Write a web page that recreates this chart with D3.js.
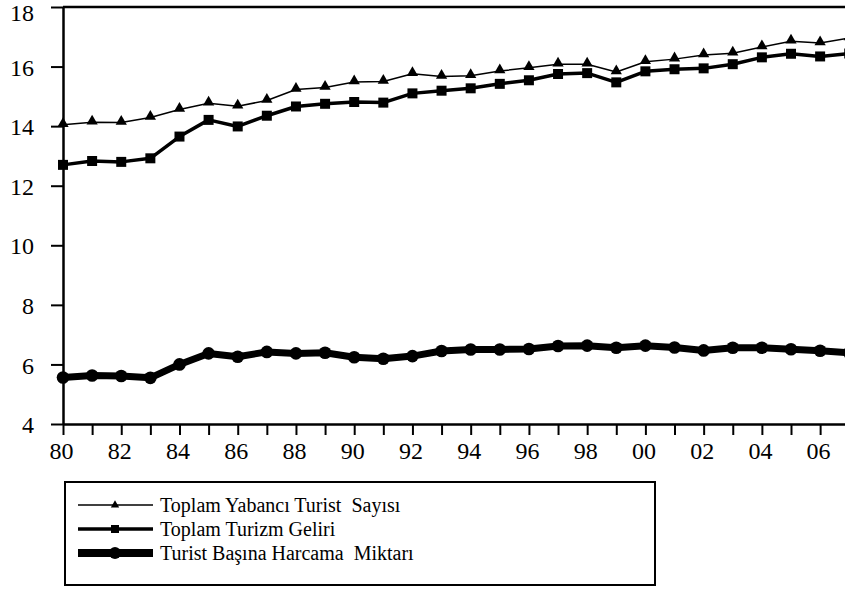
<!DOCTYPE html>
<html>
<head>
<meta charset="utf-8">
<script src="https://cdn.jsdelivr.net/npm/d3@7"></script>
<style>
  html, body { margin: 0; padding: 0; background: #fff; }
  svg { display: block; }
  svg text { font-family: "Liberation Serif", "Times New Roman", Times, "DejaVu Serif", serif !important; fill: #000; }
</style>
</head>
<body>
<script>
// ---- Data ----
const years = [1980,1981,1982,1983,1984,1985,1986,1987,1988,1989,1990,1991,1992,1993,
               1994,1995,1996,1997,1998,1999,2000,2001,2002,2003,2004,2005,2006,2007];
const touristCount = [14.05,14.13,14.12,14.29,14.56,14.77,14.67,14.86,15.23,15.30,15.48,15.50,15.76,15.67,
                      15.69,15.85,15.96,16.08,16.08,15.82,16.16,16.25,16.39,16.45,16.66,16.85,16.79,16.96];
const tourismRevenue = [12.70,12.83,12.80,12.92,13.65,14.21,13.99,14.35,14.66,14.75,14.81,14.79,15.10,15.19,
                        15.27,15.42,15.54,15.75,15.78,15.47,15.84,15.91,15.94,16.08,16.31,16.43,16.34,16.44];
const spendingPerTourist = [5.56,5.63,5.61,5.55,6.00,6.37,6.26,6.42,6.37,6.39,6.24,6.19,6.28,6.45,
                            6.50,6.50,6.52,6.62,6.63,6.56,6.63,6.57,6.47,6.56,6.56,6.51,6.46,6.39];
const yTicks = [4,6,8,10,12,14,16,18];
const xTickYears = years;
const seriesNames = ["Toplam Yabancı Turist  Sayısı", "Toplam Turizm Geliri", "Turist Başına Harcama  Miktarı"];

// ---- Layout ----
const W = 845, H = 589;
const FONT = "'Liberation Serif', 'Times New Roman', Times, 'DejaVu Serif', serif";
const svg = d3.select("body").append("svg").attr("width", W).attr("height", H);

const x = d3.scaleLinear().domain([1980, 2007]).range([63, 63 + 27 * 29.12]);
const y = d3.scaleLinear().domain([4, 18]).range([424, 7]);

// Top frame line
svg.append("line")
  .attr("x1", x(1980)).attr("x2", x(2007) + 5)
  .attr("y1", y(18)).attr("y2", y(18))
  .attr("stroke", "#000").attr("stroke-width", 2.5);
svg.append("line")
  .attr("x1", x(2007)).attr("x2", x(2007))
  .attr("y1", y(18)).attr("y2", y(4))
  .attr("stroke", "#000").attr("stroke-width", 2.5);

// Y axis
const yAxis = svg.append("g")
  .attr("transform", `translate(${x(1980)},0)`)
  .call(d3.axisLeft(y).tickValues(yTicks).tickSize(12).tickSizeOuter(0).tickPadding(17).tickFormat(d3.format("d")))
  .attr("font-family", FONT).attr("font-size", 24);
yAxis.select(".domain").attr("stroke-width", 2.5);
yAxis.selectAll(".tick line").attr("stroke-width", 2);
yAxis.selectAll(".tick text")
  .attr("font-family", FONT).attr("font-size", 24)
  .attr("dy", d => d === 18 ? "0.55em" : "0.36em");

// X axis
const xAxis = svg.append("g")
  .attr("transform", `translate(0,${y(4)})`)
  .call(d3.axisBottom(x).tickValues(xTickYears).tickSize(11).tickSizeOuter(0).tickPadding(7)
    .tickFormat(d => (d % 2 === 0 && d < 2007) ? String(d).slice(2) : ""))
  .attr("font-family", FONT).attr("font-size", 24);
xAxis.select(".domain").attr("stroke-width", 2.5);
xAxis.selectAll(".tick line").attr("stroke-width", 2);
xAxis.selectAll(".tick text").attr("font-family", FONT).attr("font-size", 24).attr("dx", "-2");

// ---- Series ----
const series = [
  { values: touristCount, width: 1.5, symbol: d3.symbolTriangle, size: 55 },
  { values: tourismRevenue, width: 3.5, symbol: d3.symbolSquare, size: 100 },
  { values: spendingPerTourist, width: 7, symbol: d3.symbolCircle, size: 125 }
];

const line = d3.line().x(d => x(d.year)).y(d => y(d.v));

series.forEach(s => {
  const pts = years.map((yr, i) => ({ year: yr, v: s.values[i] }));
  svg.append("path")
    .datum(pts)
    .attr("d", line)
    .attr("fill", "none")
    .attr("stroke", "#000")
    .attr("stroke-width", s.width)
    .attr("stroke-linejoin", "round");
  svg.append("g").selectAll("path")
    .data(pts)
    .join("path")
    .attr("transform", d => `translate(${x(d.year)},${y(d.v) + (s.symbol === d3.symbolTriangle ? -1 : 0)})`)
    .attr("d", d3.symbol().type(s.symbol).size(s.size))
    .attr("fill", "#000");
});

// ---- Legend ----
const lg = svg.append("g");
lg.append("rect")
  .attr("x", 65).attr("y", 482).attr("width", 590).attr("height", 103)
  .attr("fill", "none").attr("stroke", "#000").attr("stroke-width", 2);

const legendRows = [
  { y: 505, width: 1.5, symbol: d3.symbolTriangle, size: 30 },
  { y: 529, width: 3.5, symbol: d3.symbolSquare, size: 64 },
  { y: 553, width: 8, symbol: d3.symbolCircle, size: 110 }
];
legendRows.forEach((r, i) => {
  lg.append("line")
    .attr("x1", 78).attr("x2", 153).attr("y1", r.y).attr("y2", r.y)
    .attr("stroke", "#000").attr("stroke-width", r.width);
  lg.append("path")
    .attr("transform", `translate(115,${r.y})`)
    .attr("d", d3.symbol().type(r.symbol).size(r.size))
    .attr("fill", "#000");
  lg.append("text")
    .attr("x", 160).attr("y", r.y + 7)
    .attr("font-family", FONT)
    .attr("font-size", 20)
    .style("white-space", "pre")
    .attr("xml:space", "preserve")
    .text(seriesNames[i]);
});
</script>
</body>
</html>
